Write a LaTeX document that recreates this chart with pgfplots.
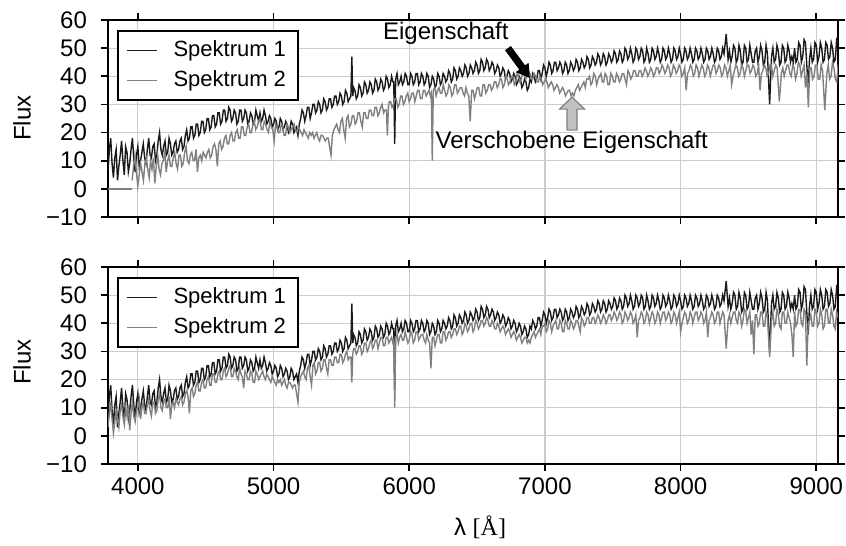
\documentclass[border=0pt]{standalone}
\usepackage{fontspec}
\setmainfont{Liberation Sans}
\newfontfamily\seriffont{Liberation Serif}
\usepackage{pgfplots}
\usepackage{pgfplotstable}
\pgfplotsset{compat=1.18}
\definecolor{sA}{HTML}{1A1A1A}
\definecolor{sB}{HTML}{808080}
\definecolor{agray}{HTML}{C0C0C0}

\pgfplotstableread{
x a b
3780 6 3
3790 14 8
3800 18 12
3810 9 6
3820 4 1
3830 11 5
3840 14 9
3850 3 6
3860 8 3
3870 12 9
3880 17 11
3890 10 7
3900 5 4
3910 15 10
3920 13 7
3930 6 11
3940 9 2
3950 14 8
3960 18 12
3970 11 7
3980 6 5
3990 12 9
4000 15 10
4010 8 13
4020 10 6
4030 13 10
4040 16 12
4050 11 8
4060 9 8
4070 14 11
4080 18 13
4090 12 9
4100 11 7
4110 15 12
4120 16 12
4130 10 8
4140 12 9
4150 17 13
4160 20 15
4170 14 10
4180 12 9
4190 15 12
4200 17 13
4210 12 10
4220 13 10
4230 18 14
4240 16 6
4250 12 11
4260 13 12
4270 16 10
4280 17 13
4290 13 12
4300 14 11
4310 17 13
4320 18 14
4330 14 11
4340 15 12
4350 19 15
4360 21 16
4370 17 14
4380 18 8
4390 22 16
4400 22 17
4410 18 14
4420 19 15
4430 23 18
4440 23 19
4450 19 16
4460 20 16
4470 24 19
4480 24 20
4490 20 17
4500 21 17
4510 25 20
4520 25 21
4530 21 18
4540 22 18
4550 26 22
4560 26 22
4570 22 19
4580 23 19
4590 27 22
4600 27 23
4610 23 20
4620 24 20
4630 28 23
4640 28 24
4650 24 21
4660 25 22
4670 29 24
4680 28 25
4690 24 21
4700 25 21
4710 28 24
4720 27 23
4730 23 21
4740 24 20
4750 28 24
4760 28 22
4770 24 21
4780 25 17
4790 28 23
4800 27 22
4810 23 20
4820 24 20
4830 27 23
4840 26 22
4850 23 19
4860 24 19
4870 28 23
4880 26 22
4890 24 20
4900 27 21
4910 24 22
4920 25 23
4930 28 21
4940 26 20
4950 23 22
4960 24 21
4970 26 20
4980 25 19
4990 22 21
5000 23 20
5010 25 19
5020 24 18
5030 21 20
5040 22 19
5050 25 20
5060 24 18
5070 21 19
5080 22 20
5090 24 18
5100 23 17
5110 20 19
5120 21 19
5130 24 18
5140 23 17
5150 20 18
5160 21 18
5170 22 15
5180 19 12
5190 23 19
5200 25 21
5210 28 22
5220 27 23
5230 24 21
5240 26 20
5250 29 24
5260 29 25
5270 25 21
5280 27 18
5290 30 25
5300 30 26
5310 27 22
5320 28 23
5330 31 26
5340 30 26
5350 27 23
5360 28 24
5370 32 27
5380 31 27
5390 28 24
5400 29 22
5410 32 27
5420 32 27
5430 29 25
5440 30 25
5450 33 28
5460 33 28
5470 30 26
5480 31 26
5490 34 29
5500 33 29
5510 30 26
5520 31 27
5530 35 29
5540 34 30
5550 31 27
5560 32 28
5570 33 28
5577 47 19
5584 33 29
5590 36 31
5600 35 31
5610 32 29
5620 33 30
5630 37 32
5640 36 32
5650 33 29
5660 34 30
5670 38 33
5680 37 33
5690 34 30
5700 35 31
5710 38 33
5720 37 34
5730 34 31
5740 35 32
5750 39 34
5760 38 34
5770 35 31
5780 36 33
5790 39 35
5800 38 35
5810 35 32
5820 36 32
5830 40 35
5840 39 35
5850 36 33
5860 37 34
5870 40 35
5880 38 33
5886 38 34
5893 16 10
5900 39 35
5910 41 36
5920 37 33
5930 38 35
5940 40 36
5950 37 34
5960 38 34
5970 41 37
5980 40 35
5990 37 33
6000 37 34
6010 41 37
6020 40 36
6030 37 33
6040 38 34
6050 41 37
6060 41 37
6070 37 34
6080 38 35
6090 41 36
6100 40 36
6110 37 34
6120 38 33
6130 41 36
6140 40 34
6150 36 33
6160 37 24
6170 40 35
6180 39 35
6190 36 32
6200 37 34
6210 41 36
6220 40 36
6230 37 33
6240 38 33
6250 41 37
6260 40 37
6270 38 34
6280 39 35
6290 42 37
6300 41 37
6310 38 35
6320 39 36
6330 43 38
6340 42 38
6350 39 36
6360 40 37
6370 43 39
6380 42 39
6390 40 36
6400 41 37
6410 44 40
6420 43 39
6430 40 37
6440 41 38
6450 44 40
6460 43 40
6470 41 37
6480 42 38
6490 45 41
6500 44 40
6510 41 38
6520 42 39
6530 46 41
6540 45 41
6550 42 39
6560 43 40
6570 46 42
6580 45 41
6590 42 39
6600 43 39
6610 45 41
6620 44 40
6630 41 38
6640 42 38
6650 44 40
6660 43 39
6670 40 37
6680 41 38
6690 43 39
6700 42 38
6710 39 36
6720 40 37
6730 42 38
6740 41 37
6750 38 35
6760 39 36
6770 41 37
6780 40 36
6790 37 34
6800 38 35
6810 40 36
6820 39 35
6830 36 33
6840 37 34
6850 39 35
6860 38 35
6870 35 33
6880 36 34
6890 39 33
6900 38 35
6910 41 36
6920 40 37
6930 38 35
6940 39 36
6950 42 37
6960 42 38
6970 39 36
6980 41 39
6990 44 39
7000 43 40
7010 40 37
7020 42 38
7030 45 41
7040 44 40
7050 41 37
7060 42 39
7070 45 40
7080 45 41
7090 42 38
7100 43 38
7110 45 41
7120 44 40
7130 41 37
7140 42 37
7150 45 41
7160 44 40
7170 41 38
7180 42 38
7190 45 41
7200 44 40
7210 42 38
7220 43 39
7230 46 41
7240 45 41
7250 42 39
7260 43 37
7270 46 42
7280 45 41
7290 43 39
7300 44 40
7310 47 42
7320 46 42
7330 43 40
7340 44 40
7350 47 42
7360 46 42
7370 44 40
7380 45 41
7390 48 43
7400 47 42
7410 44 40
7420 45 41
7430 48 43
7440 47 42
7450 44 40
7460 45 41
7470 48 43
7480 47 43
7490 45 41
7500 46 42
7510 49 44
7520 48 43
7530 45 41
7540 46 42
7550 49 44
7560 48 43
7570 45 40
7580 46 41
7590 50 44
7600 49 43
7610 46 41
7620 47 42
7630 50 44
7640 48 43
7650 45 40
7660 46 41
7670 50 43
7680 49 35
7690 46 41
7700 47 42
7710 50 44
7720 49 43
7730 45 40
7740 46 41
7750 50 44
7760 48 43
7770 45 40
7780 46 42
7790 50 44
7800 49 43
7810 46 40
7820 47 41
7830 50 44
7840 48 43
7850 45 40
7860 46 42
7870 50 44
7880 49 44
7890 46 41
7900 47 42
7910 50 44
7920 48 43
7930 45 40
7940 46 41
7950 50 44
7960 49 43
7970 46 40
7980 47 42
7990 50 44
8000 48 37
8010 45 40
8020 46 42
8030 50 44
8040 49 43
8050 46 40
8060 47 41
8070 50 44
8080 48 43
8090 45 40
8100 46 42
8110 50 44
8120 49 44
8130 46 41
8140 47 42
8150 50 44
8160 48 43
8170 45 40
8180 46 41
8190 50 44
8200 49 35
8210 46 41
8220 47 42
8230 50 44
8240 48 43
8250 45 40
8260 46 41
8270 50 44
8280 49 44
8290 46 40
8300 47 42
8310 50 44
8320 48 43
8336 55 31
8350 46 41
8360 49 43
8370 45 40
8380 47 42
8390 51 44
8400 50 44
8410 45 41
8420 46 40
8430 51 44
8440 49 43
8450 44 39
8460 45 41
8470 51 45
8480 50 44
8490 45 40
8500 46 42
8510 51 44
8520 48 36
8530 45 41
8540 45 29
8550 49 43
8560 50 43
8570 45 39
8580 47 40
8590 51 44
8600 49 44
8610 44 39
8620 45 39
8630 51 44
8640 48 42
8656 30 28
8670 47 41
8680 50 44
8690 45 39
8700 46 40
8710 51 45
8720 49 43
8730 44 39
8740 45 38
8750 51 44
8760 50 44
8770 45 40
8780 46 40
8790 51 44
8800 49 42
8810 45 40
8820 47 36
8830 45 28
8840 50 44
8850 45 39
8860 46 40
8870 52 45
8880 51 45
8890 45 40
8900 47 39
8910 53 45
8920 52 44
8930 44 25
8940 36 40
8950 46 41
8960 50 43
8970 45 39
8980 46 39
8990 52 45
9000 51 44
9010 45 39
9020 47 40
9030 52 45
9040 50 43
9050 45 38
9060 46 39
9070 52 45
9080 51 45
9090 46 40
9100 47 40
9110 52 45
9120 50 43
9130 45 39
9140 46 38
9150 53 44
9160 52 42
}\spec

\pgfplotsset{
  specaxis/.style={
    scale only axis, width=365pt, height=98.5pt,
    xmin=3780, xmax=9160, ymin=-10, ymax=60,
    xtick={4000,5000,6000,7000,8000,9000},
    ytick={-10,0,10,20,30,40,50,60},
    yticklabels={−10,0,10,20,30,40,50,60},
    tick align=outside, major tick length=3.5pt,
    every tick/.style={black, line width=0.8pt},
    axis line style={line width=1pt},
    grid=major, major grid style={color=gray!40, line width=0.6pt},
    ticklabel style={font=\fontsize{12}{14}\selectfont},
    yticklabel style={xshift=-3.5pt},
    legend style={at={(0,1)}, anchor=north west, xshift=4.5pt, yshift=-5pt,
      draw=black, line width=0.9pt, font=\fontsize{11}{13}\selectfont,
      inner xsep=4pt, inner ysep=3pt, row sep=1.5pt,
      /tikz/every odd column/.append style={column sep=6pt}},
    legend cell align=left,
    legend image code/.code={\draw[#1, line width=0.8pt] (0pt,0pt) -- (15pt,0pt);},
  }
}

\begin{document}
\begin{tikzpicture}
\useasboundingbox (0,0) rectangle (423pt,273pt);
% top panel
\begin{axis}[specaxis, at={(54pt,164.5pt)}, anchor=south west, xticklabels={}]
\addplot[sA, line width=0.7pt] table[x=x, y=a] {\spec};
\addlegendentry{Spektrum 1}
\addplot[sB, line width=0.7pt] table[x expr=\thisrow{x}*1.047, y=b] {\spec};
\addlegendentry{Spektrum 2}
\addplot[sB, line width=0.7pt, forget plot] coordinates {(3780,0) (3958,0)};
\node[font=\fontsize{12}{14}\selectfont] at (axis cs:6270,55.4) {Eigenschaft};
\node[font=\fontsize{12}{14}\selectfont] at (axis cs:7198,16.6) {Verschobene Eigenschaft};
\coordinate (tipA) at (axis cs:6889,39.4);
\coordinate (tipB) at (axis cs:7200,32.6);
\end{axis}
% arrows
\begin{scope}[shift={(tipA)}, rotate=-53.7]
\fill[black] (0,0) -- (-6.5pt,4pt) -- (-6.5pt,1.8pt) -- (-18.5pt,1.8pt) -- (-18.5pt,-1.8pt) -- (-6.5pt,-1.8pt) -- (-6.5pt,-4pt) -- cycle;
\end{scope}
\begin{scope}[shift={(tipB)}]
\draw[fill=agray, draw=sB, line width=0.6pt] (0,0) -- (6.25pt,-6pt) -- (2.5pt,-6pt) -- (2.5pt,-16.5pt) -- (-2.5pt,-16.5pt) -- (-2.5pt,-6pt) -- (-6.25pt,-6pt) -- cycle;
\end{scope}
% bottom panel
\begin{axis}[specaxis, at={(54pt,41pt)}, anchor=south west, xticklabels={4000,5000,6000,7000,8000,9000}]
\addplot[sA, line width=0.7pt] table[x=x, y=a] {\spec};
\addlegendentry{Spektrum 1}
\addplot[sB, line width=0.7pt] table[x=x, y=b] {\spec};
\addlegendentry{Spektrum 2}
\end{axis}
% labels
\node[rotate=90, font=\fontsize{12}{14}\selectfont] at (11pt,214pt) {Flux};
\node[rotate=90, font=\fontsize{12}{14}\selectfont] at (11pt,92pt) {Flux};
\node[font=\fontsize{12}{14}\selectfont] at (240pt,9.5pt) {λ {\seriffont [Å]}};
\end{tikzpicture}
\end{document}
